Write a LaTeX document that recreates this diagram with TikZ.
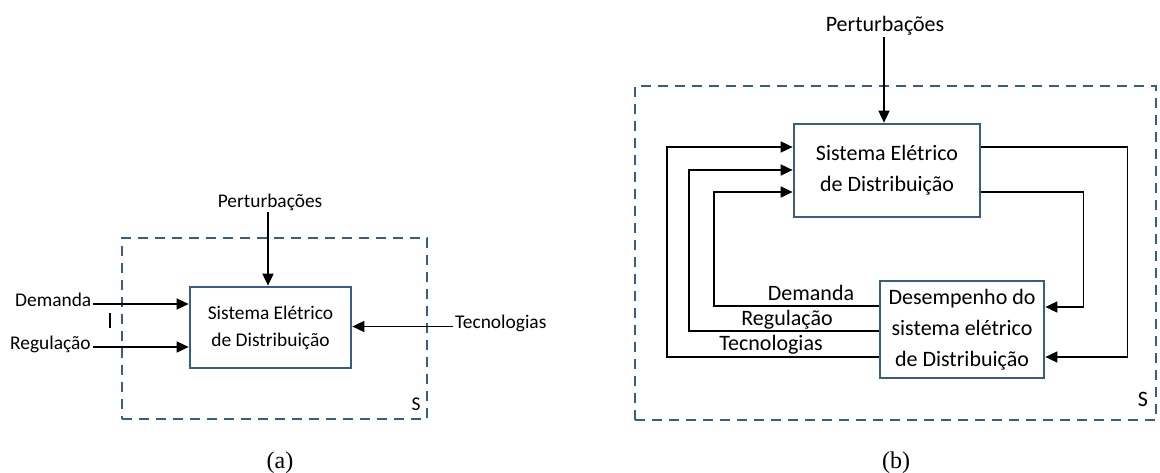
\documentclass[tikz,border=0pt]{standalone}
\usepackage{fontspec}
\setmainfont{Carlito}
\newfontfamily\capfont{Liberation Serif}
\usetikzlibrary{arrows.meta}
\definecolor{frameblue}{RGB}{56,93,138}
\newcommand\sizeA{\fontsize{19.4}{27}\selectfont}
\newcommand\sizeB{\fontsize{22}{31}\selectfont}
\begin{document}
\begin{tikzpicture}[x=1pt,y=-1pt,
  sysframe/.style={draw=frameblue, line width=2.7pt, dash pattern=on 10pt off 7pt, inner sep=0pt},
  sysbox/.style={draw=frameblue, line width=2.7pt, fill=white, align=center, inner sep=0pt},
  lbl/.style={inner sep=2pt},
  link/.style={line width=1.7pt},
  arrowlink/.style={link, -{Triangle[length=12pt,width=11pt]}},
  caption/.style={inner sep=0pt, anchor=base, font=\capfont\fontsize{24}{28}\selectfont}]
\useasboundingbox (0,0) rectangle (1160,472);
\fill[white] (0,0) rectangle (1160,472);

% ---------- (a) open system ----------
\node[sysframe, minimum width=305pt, minimum height=181pt] (frameA) at (274.5,328.5) {};
\node[sysbox, minimum width=161pt, minimum height=81pt, font=\sizeA] (boxA) at (270.5,327.5)
  {Sistema Elétrico\\de Distribuição};
\node[lbl, anchor=base, font=\sizeA] (pertA) at (270,207) {Perturbações};
\node[lbl, anchor=mid west, font=\sizeA] (demA) at (13,304) {Demanda};
\node[lbl, anchor=mid west, font=\sizeA] (regA) at (8,347) {Regulação};
\node[lbl, anchor=mid west, font=\sizeA] (tecA) at (453,326.5) {Tecnologias};
\node[lbl, anchor=base, font=\sizeA] (sA) at (416,410.5) {S};
\coordinate (tickTop) at (110,313);
\coordinate (tickBot) at (110,328);
\draw[line width=1.3pt] (tickTop) -- (tickBot);

\draw[arrowlink] (pertA.south -| 268,0) -- (boxA.north -| 268,0);
\draw[arrowlink] (demA.mid east) -- (demA.mid east -| boxA.west);
\draw[arrowlink] (regA.mid east) -- (regA.mid east -| boxA.west);
\draw[arrowlink] (tecA.mid west) -- (tecA.mid west -| boxA.east);

\node[caption] (capA) at (280,468) {(a)};

% ---------- (b) closed loop system ----------
\node[sysframe, minimum width=521pt, minimum height=334pt] (frameB) at (895.5,253) {};
\node[sysbox, minimum width=186pt, minimum height=93pt, font=\sizeB] (boxB1) at (887,170.5)
  {Sistema Elétrico\\de Distribuição};
\node[sysbox, minimum width=164pt, minimum height=97pt, font=\sizeB] (boxB2) at (962,329.5)
  {Desempenho do\\sistema elétrico\\de Distribuição};
\node[lbl, anchor=base, font=\sizeB] (pertB) at (885,31) {Perturbações};
\node[lbl, anchor=base, font=\sizeB] (sB) at (1143,406.5) {S};

\draw[arrowlink] (pertB.south -| 884,0) -- (boxB1.north -| 884,0);

% feedback paths from the performance block
\draw[arrowlink] ([yshift=23.5pt]boxB2.west) -| ([xshift=-79pt,yshift=-21.5pt]boxB1.west)
  -- ([yshift=-21.5pt]boxB1.west);
\draw[arrowlink] ([yshift=-1.5pt]boxB2.west) -| ([xshift=-104pt,yshift=0.5pt]boxB1.west)
  -- ([yshift=0.5pt]boxB1.west);
\draw[arrowlink] ([yshift=-27.5pt]boxB2.west) -| ([xshift=-126pt,yshift=23.5pt]boxB1.west)
  -- ([yshift=23.5pt]boxB1.west);

% outputs of the system block
\draw[arrowlink] ([yshift=23.5pt]boxB1.east) -| ([xshift=82pt,yshift=-27.5pt]boxB2.east)
  -- ([yshift=-27.5pt]boxB2.east);
\draw[arrowlink] ([yshift=-21.5pt]boxB1.east) -| ([xshift=38pt,yshift=22.5pt]boxB2.east)
  -- ([yshift=22.5pt]boxB2.east);

\node[lbl, anchor=base, font=\sizeB] (demB) at (811,300) {Demanda};
\node[lbl, anchor=base, font=\sizeB] (regB) at (787,325) {Regulação};
\node[lbl, anchor=base, font=\sizeB] (tecB) at (771,350) {Tecnologias};

\node[caption] (capB) at (896,468) {(b)};
\end{tikzpicture}
\end{document}
